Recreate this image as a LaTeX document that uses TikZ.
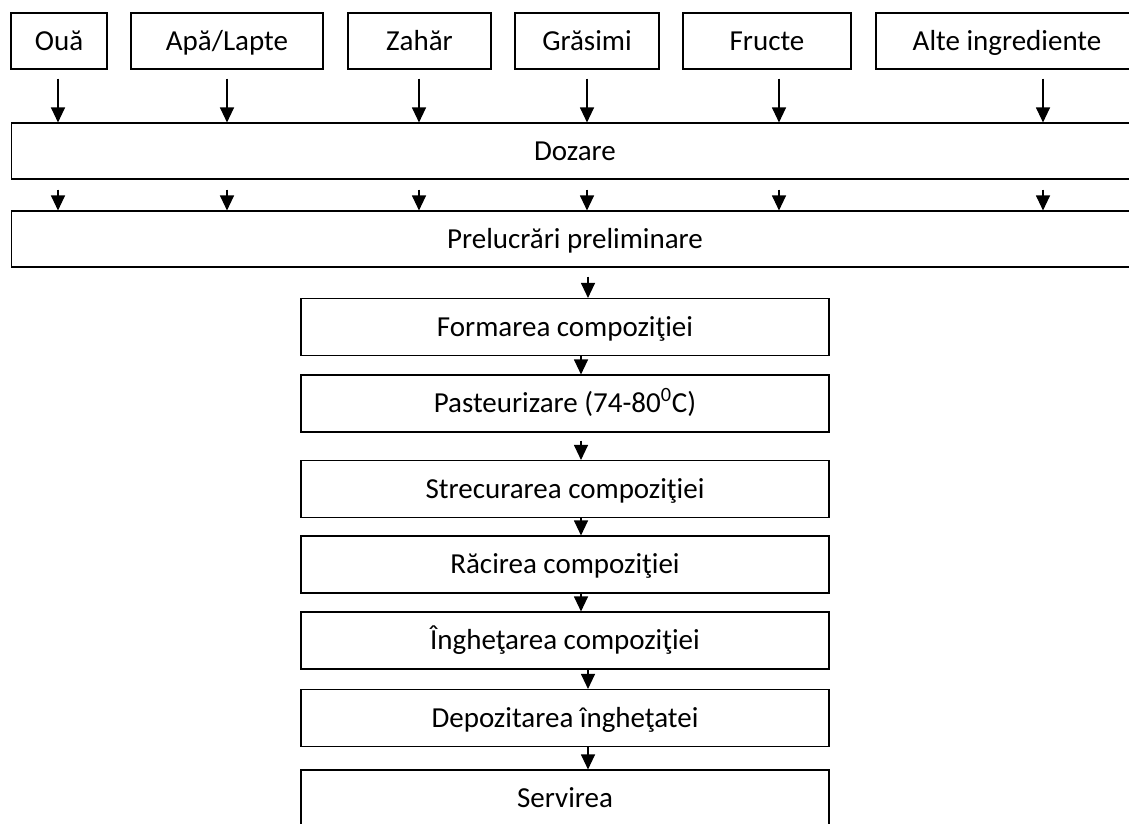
\documentclass[tikz,border=0pt]{standalone}
\usepackage{fontspec}
\setmainfont{Carlito}
\usepackage{xcolor}
\usepackage{tikz}
\usetikzlibrary{arrows.meta}

\begin{document}
\begin{tikzpicture}[
  x=0.02cm,y=-0.02cm,
  font=\fontsize{16.5}{20}\selectfont,
  ingr/.style={draw=black,line width=0.65pt,inner sep=0pt,minimum height=1.12cm,text height=0.46cm,text depth=0.1cm},
  wide/.style={ingr,minimum width=22.56cm},
  etapa/.style={draw=black,line width=0.65pt,inner sep=0pt,minimum width=10.56cm,minimum height=1.14cm,text height=0.46cm,text depth=0.1cm},
  fl/.style={-{Triangle[length=0.3cm,width=0.28cm]},draw=black,line width=0.65pt}
]
\useasboundingbox (0,0) rectangle (1129,823);
\node[ingr,minimum width=1.92cm] (oua) at (59,41) {Ouă};
\node[ingr,minimum width=3.84cm] (apa) at (227,41) {Apă/Lapte};
\node[ingr,minimum width=2.86cm] (zahar) at (419.5,41) {Zahăr};
\node[ingr,minimum width=2.88cm] (grasimi) at (587,41) {Grăsimi};
\node[ingr,minimum width=3.36cm] (fructe) at (767,41) {Fructe};
\node[ingr,minimum width=5.24cm] (alte) at (1007,41) {Alte ingrediente};
\node[wide] (dozare) at (575,151) {Dozare};
\node[wide] (prel) at (575,239) {Prelucrări preliminare};
\node[etapa] (form) at (565,327) {Formarea compoziţiei};
\node[etapa] (past) at (565,403.5) {Pasteurizare (74-80\textsuperscript{0}C)};
\node[etapa] (strec) at (565,489) {Strecurarea compoziţiei};
\node[etapa] (racire) at (565,564.5) {Răcirea compoziţiei};
\node[etapa] (inghet) at (565,640.5) {Îngheţarea compoziţiei};
\node[etapa] (depoz) at (565,718) {Depozitarea îngheţatei};
\node[etapa] (serv) at (565,798.5) {Servirea};
\coordinate (k1) at (58,0);
\coordinate (k2) at (227,0);
\coordinate (k3) at (419,0);
\coordinate (k4) at (587,0);
\coordinate (k5) at (779,0);
\coordinate (k6) at (1043,0);
\coordinate (m1) at (588,0);
\coordinate (m2) at (581,0);

\draw[fl,shorten <=0.18cm] (oua.south -| k1) -- (dozare.north -| k1);
\draw[fl,shorten <=0.18cm] (apa.south -| k2) -- (dozare.north -| k2);
\draw[fl,shorten <=0.18cm] (zahar.south -| k3) -- (dozare.north -| k3);
\draw[fl,shorten <=0.18cm] (grasimi.south -| k4) -- (dozare.north -| k4);
\draw[fl,shorten <=0.18cm] (fructe.south -| k5) -- (dozare.north -| k5);
\draw[fl,shorten <=0.18cm] (alte.south -| k6) -- (dozare.north -| k6);
\draw[fl,shorten <=0.2cm] (dozare.south -| k1) -- (prel.north -| k1);
\draw[fl,shorten <=0.2cm] (dozare.south -| k2) -- (prel.north -| k2);
\draw[fl,shorten <=0.2cm] (dozare.south -| k3) -- (prel.north -| k3);
\draw[fl,shorten <=0.2cm] (dozare.south -| k4) -- (prel.north -| k4);
\draw[fl,shorten <=0.2cm] (dozare.south -| k5) -- (prel.north -| k5);
\draw[fl,shorten <=0.2cm] (dozare.south -| k6) -- (prel.north -| k6);
\draw[fl,shorten <=0.18cm] (prel.south -| m1) -- (form.north -| m1);
\draw[fl] (form.south -| m2) -- (past.north -| m2);
\draw[fl,shorten <=0.16cm] (past.south -| m2) -- (strec.north -| m2);
\draw[fl] (strec.south -| m2) -- (racire.north -| m2);
\draw[fl] (racire.south -| m2) -- (inghet.north -| m2);
\draw[fl] (inghet.south -| m1) -- (depoz.north -| m1);
\draw[fl] (depoz.south -| m1) -- (serv.north -| m1);
\end{tikzpicture}
\end{document}
